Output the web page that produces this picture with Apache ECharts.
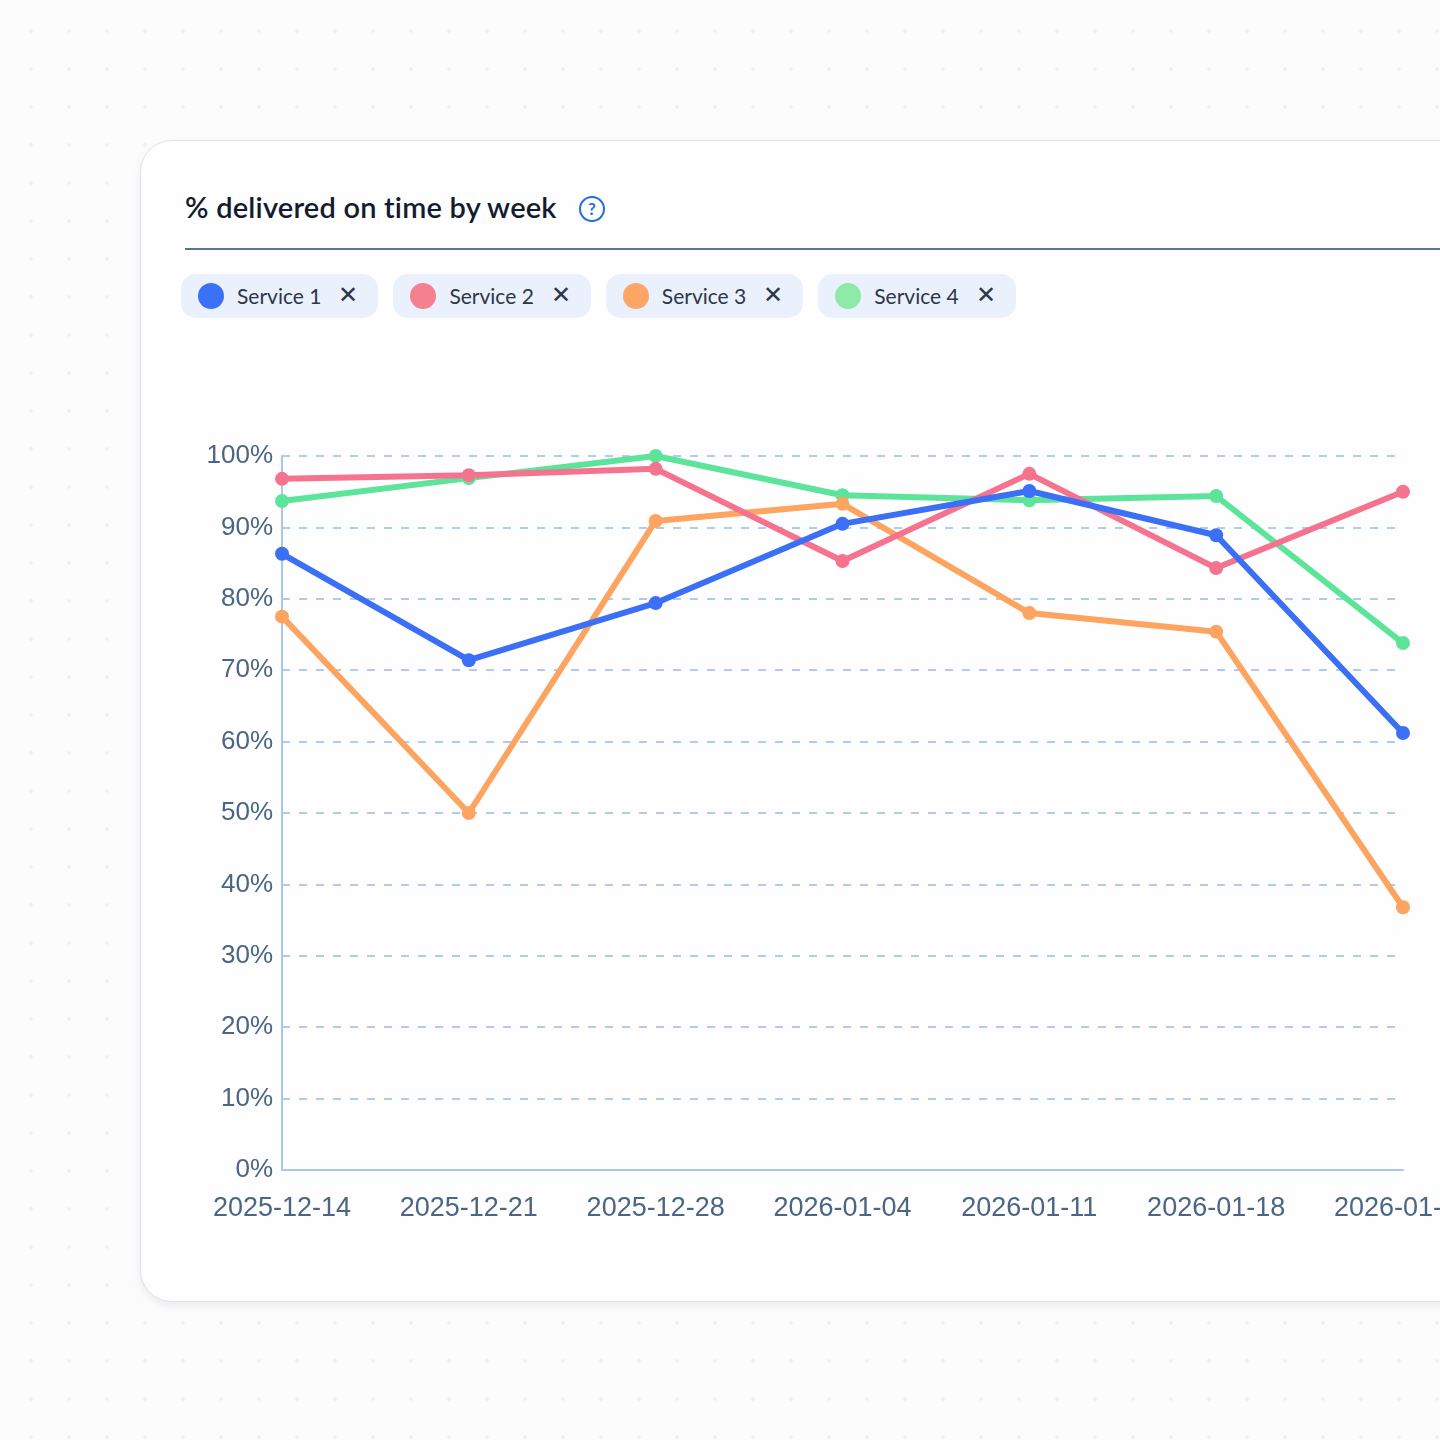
<!DOCTYPE html>
<html>
<head>
<meta charset="utf-8">
<title>% delivered on time by week</title>
<script src="https://cdn.jsdelivr.net/npm/echarts@6.0.0/dist/echarts.min.js"></script>
<style>
  html, body {
    margin: 0;
    padding: 0;
    width: 1440px;
    height: 1440px;
    overflow: hidden;
  }
  body {
    background-color: #fdfcfd;
    background-image: radial-gradient(circle, #f0eff3 1.5px, transparent 2px);
    background-size: 38px 38px;
    background-position: 12px 12px;
    font-family: "Lato", "Noto Sans", sans-serif;
    position: relative;
  }
  .card {
    position: absolute;
    left: 140px;
    top: 140px;
    width: 1400px;
    height: 1160px;
    background: #fefefe;
    border: 1px solid #e2e2ea;
    border-radius: 32px;
    box-shadow: 0 4px 8px rgba(30, 40, 70, 0.08);
  }
  .title {
    position: absolute;
    left: 185px;
    top: 189px;
    font-size: 29px;
    font-weight: 600;
    color: #131c2e;
    letter-spacing: 0.2px;
    white-space: nowrap;
  }
  .help {
    position: absolute;
    left: 579px;
    top: 196px;
    width: 22px;
    height: 22px;
    border: 2.5px solid #1f6fe0;
    border-radius: 50%;
    color: #1f6fe0;
    font-size: 17px;
    font-weight: 700;
    line-height: 22px;
    text-align: center;
    font-family: "Lato", sans-serif;
  }
  .divider {
    position: absolute;
    left: 185px;
    top: 248px;
    width: 1300px;
    height: 2px;
    background: #5b7390;
  }
  #pills {
    position: absolute;
    left: 181px;
    top: 274px;
    display: flex;
    gap: 15px;
  }
  .pill {
    height: 44px;
    border-radius: 15px;
    background: #eaf0fc;
    display: flex;
    align-items: center;
    padding: 0 20px 0 17px;
    font-size: 21px;
    color: #2c3749;
    font-family: "Lato", sans-serif;
    box-sizing: border-box;
  }
  .pill span.lbl {
    position: relative;
    top: -1px;
  }
  .pill .dot {
    width: 26px;
    height: 26px;
    border-radius: 50%;
    margin-right: 13px;
  }
  .pill .x {
    margin-left: 17px;
    font-size: 24px;
    color: #2c3749;
    font-family: "DejaVu Sans", sans-serif;
    font-weight: 300;
    position: relative;
    top: -1px;
  }
  #chart {
    position: absolute;
    left: 140px;
    top: 380px;
    width: 1400px;
    height: 900px;
  }
</style>
</head>
<body>
<div class="card"></div>
<div class="title">% delivered on time by week</div>
<div class="help">?</div>
<div class="divider"></div>
<div id="pills"></div>
<div id="chart"></div>
<script>
// 周次
var weeks = ['2025-12-14', '2025-12-21', '2025-12-28', '2026-01-04', '2026-01-11', '2026-01-18', '2026-01-25'];
var serviceNames = ['Service 1', 'Service 2', 'Service 3', 'Service 4'];
var lineColors = ['#3a6ff6', '#f5738f', '#fda460', '#5de49b'];
var dotColors = ['#3b71f6', '#f5808f', '#fca564', '#8fe9a8'];
// 准时率 (%)
var service1 = [86.3, 71.4, 79.4, 90.5, 95.1, 88.9, 61.2];
var service2 = [96.8, 97.3, 98.2, 85.3, 97.5, 84.3, 95.0];
var service3 = [77.5, 50.0, 90.9, 93.3, 78.0, 75.4, 36.8];
var service4 = [93.7, 96.9, 100, 94.5, 93.8, 94.4, 73.8];
var yTicks = [0, 10, 20, 30, 40, 50, 60, 70, 80, 90, 100];

// legend pills
var pillsBox = document.getElementById('pills');
for (var i = 0; i < serviceNames.length; i++) {
    var pill = document.createElement('div');
    pill.className = 'pill';
    pill.innerHTML = '<span class="dot" style="background:' + dotColors[i] + '"></span>' +
        '<span class="lbl">' + serviceNames[i] + '</span><span class="x">\u2715</span>';
    pillsBox.appendChild(pill);
}

var chart = echarts.init(document.getElementById('chart'));
var allData = [service1, service2, service3, service4];
// draw order: green, orange, pink, blue on top
var drawOrder = [3, 2, 1, 0];
var seriesArr = [];
for (var k = 0; k < drawOrder.length; k++) {
    var idx = drawOrder[k];
    seriesArr.push({
        name: serviceNames[idx],
        type: 'line',
        data: allData[idx],
        symbol: 'circle',
        symbolSize: 14,
        lineStyle: { width: 6, color: lineColors[idx] },
        itemStyle: { color: lineColors[idx] },
        animation: false
    });
}

var option = {
    animation: false,
    grid: { left: 142, top: 76, width: 1121, height: 714 },
    xAxis: {
        type: 'category',
        data: weeks,
        boundaryGap: false,
        axisLine: { show: true, lineStyle: { color: '#a9c6ef', width: 2 } },
        axisTick: { show: false },
        axisLabel: {
            color: '#4b6584',
            fontSize: 27,
            fontFamily: 'Liberation Sans, Arial, sans-serif',
            margin: 25,
            interval: 0
        },
        splitLine: { show: false }
    },
    yAxis: {
        type: 'value',
        min: yTicks[0],
        max: yTicks[yTicks.length - 1],
        interval: 10,
        axisLine: { show: true, lineStyle: { color: '#a9c6ef', width: 2 } },
        axisTick: { show: false },
        axisLabel: {
            color: '#4b6584',
            fontSize: 26,
            fontFamily: 'Liberation Sans, Arial, sans-serif',
            margin: 9,
            padding: [3, 0, 0, 0],
            formatter: '{value}%'
        },
        splitLine: {
            show: true,
            lineStyle: { color: '#b0cbf0', width: 2, type: [8, 9] }
        }
    },
    series: seriesArr
};
chart.setOption(option);
</script>
</body>
</html>
